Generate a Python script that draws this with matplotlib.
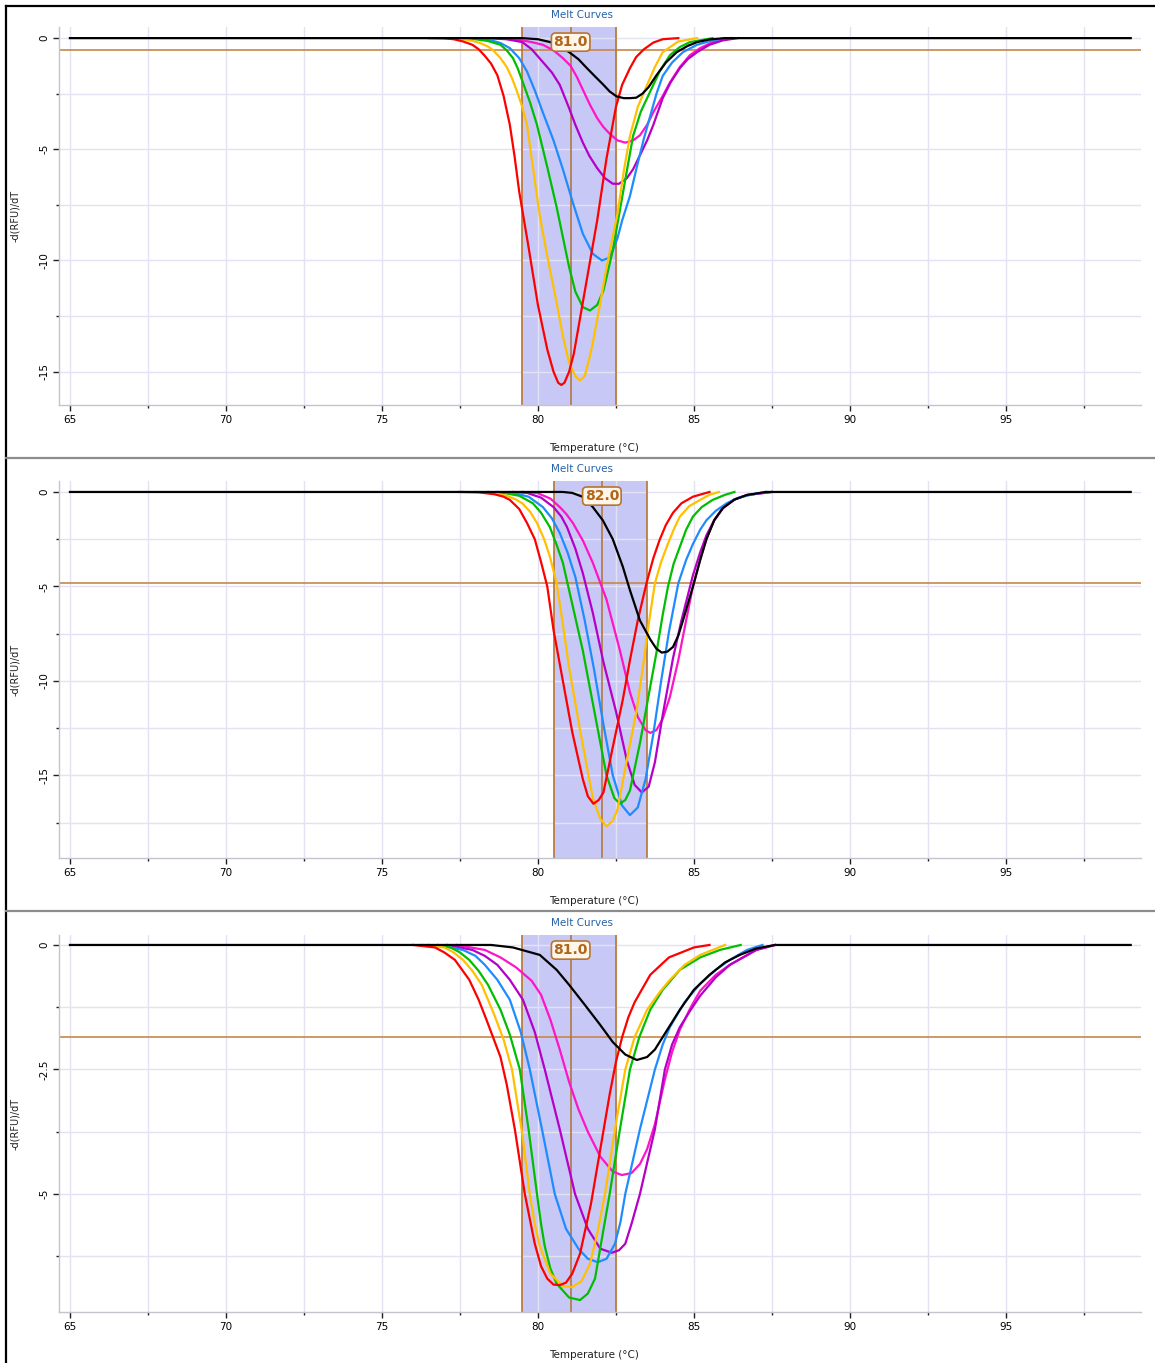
import numpy as np
import matplotlib
matplotlib.use("Agg")
import matplotlib.pyplot as plt
from matplotlib.lines import Line2D
from matplotlib.ticker import MultipleLocator

plt.rcParams['font.family'] = ['DejaVu Sans']
plt.rcParams['axes.unicode_minus'] = False

# ---- panel 1 (melt peak 81.0) ----
p1_red_t = [76.5, 77.0, 77.3, 77.6, 77.9, 78.1, 78.3, 78.5, 78.7, 78.9, 79.1, 79.25, 79.4, 79.7, 80.0, 80.3, 80.5, 80.65, 80.75, 80.85, 81.0, 81.15, 81.45, 81.7, 81.9, 82.2, 82.5, 82.7, 82.95, 83.15, 83.4, 83.7, 84.0, 84.5]
p1_red_y = [0, -0.01, -0.05, -0.15, -0.3, -0.5, -0.8, -1.15, -1.67, -2.6, -3.9, -5.3, -6.9, -9.4, -12.0, -14.0, -15.0, -15.5, -15.6, -15.5, -15.0, -14.2, -11.8, -9.8, -8.2, -5.4, -3.1, -2.1, -1.35, -0.85, -0.5, -0.2, -0.05, 0]
p1_orange_t = [77.0, 77.6, 77.9, 78.2, 78.4, 78.56, 78.8, 79.0, 79.17, 79.33, 79.5, 79.65, 79.85, 80.06, 80.3, 80.6, 80.8, 81.0, 81.2, 81.35, 81.5, 81.65, 81.76, 82.0, 82.2, 82.55, 82.75, 82.95, 83.2, 83.5, 83.75, 84.0, 84.5, 85.1]
p1_orange_y = [0, -0.05, -0.12, -0.25, -0.38, -0.54, -0.9, -1.3, -1.8, -2.4, -3.1, -3.9, -5.9, -8.0, -9.8, -11.9, -13.4, -14.6, -15.2, -15.4, -15.2, -14.4, -13.7, -11.9, -10.3, -7.9, -6.0, -4.4, -3.1, -2.1, -1.3, -0.63, -0.15, 0]
p1_green_t = [77.4, 78.0, 78.4, 78.8, 79.0, 79.2, 79.35, 79.52, 79.75, 79.97, 80.3, 80.6, 81.0, 81.2, 81.44, 81.67, 81.9, 82.1, 82.4, 82.72, 83.05, 83.3, 83.6, 83.9, 84.23, 84.55, 84.87, 85.6]
p1_green_y = [0, -0.05, -0.13, -0.3, -0.55, -0.9, -1.35, -2.0, -2.9, -3.9, -5.8, -7.6, -10.3, -11.4, -12.1, -12.25, -12.0, -11.35, -9.55, -7.0, -4.4, -3.3, -2.4, -1.5, -0.77, -0.4, -0.18, 0]
p1_blue_t = [77.8, 78.5, 78.8, 79.1, 79.4, 79.65, 79.9, 80.16, 80.5, 80.8, 81.12, 81.44, 81.76, 82.05, 82.25, 82.4, 82.55, 82.7, 82.95, 83.17, 83.4, 83.6, 83.8, 84.0, 84.3, 84.65, 85.1, 85.6, 86.0]
p1_blue_y = [0, -0.1, -0.22, -0.45, -0.9, -1.5, -2.35, -3.35, -4.6, -5.9, -7.4, -8.8, -9.7, -10.0, -9.9, -9.55, -9.0, -8.2, -7.1, -5.8, -4.5, -3.5, -2.5, -1.7, -1.1, -0.63, -0.3, -0.1, 0]
p1_purple_t = [78.3, 79.0, 79.5, 79.8, 80.16, 80.45, 80.7, 81.0, 81.2, 81.44, 81.65, 81.9, 82.15, 82.4, 82.6, 82.85, 83.05, 83.27, 83.5, 83.7, 84.0, 84.25, 84.55, 84.8, 85.1, 85.5, 85.93, 86.4]
p1_purple_y = [0, -0.05, -0.18, -0.5, -1.08, -1.55, -2.1, -3.15, -3.9, -4.7, -5.3, -5.85, -6.3, -6.55, -6.55, -6.3, -5.9, -5.27, -4.6, -3.9, -2.7, -2.0, -1.35, -0.95, -0.63, -0.3, -0.1, 0]
p1_magenta_t = [78.7, 79.5, 79.8, 80.16, 80.5, 80.8, 81.05, 81.25, 81.45, 81.67, 81.9, 82.1, 82.3, 82.55, 82.8, 83.05, 83.27, 83.5, 83.7, 84.0, 84.23, 84.55, 84.87, 85.2, 85.6, 86.2]
p1_magenta_y = [0, -0.1, -0.18, -0.3, -0.55, -0.9, -1.25, -1.75, -2.35, -3.0, -3.6, -4.0, -4.3, -4.6, -4.7, -4.6, -4.37, -3.9, -3.33, -2.6, -2.0, -1.3, -0.77, -0.45, -0.18, 0]
p1_black_t = [65.0, 79.5, 80.0, 80.4, 80.7, 81.0, 81.3, 81.57, 81.85, 82.1, 82.3, 82.52, 82.75, 82.95, 83.15, 83.35, 83.55, 83.8, 84.1, 84.45, 84.8, 85.1, 85.5, 86.0, 99.0]
p1_black_y = [0, 0, -0.05, -0.18, -0.38, -0.63, -0.95, -1.35, -1.75, -2.1, -2.4, -2.62, -2.7, -2.7, -2.68, -2.5, -2.2, -1.67, -1.1, -0.63, -0.35, -0.18, -0.06, 0, 0]

# ---- panel 2 (melt peak 82.0) ----
p2_red_t = [77.5, 78.1, 78.6, 78.9, 79.1, 79.4, 79.65, 79.9, 80.1, 80.3, 80.5, 80.8, 81.1, 81.44, 81.6, 81.78, 81.95, 82.1, 82.4, 82.72, 82.95, 83.2, 83.48, 83.7, 83.9, 84.1, 84.33, 84.6, 84.97, 85.5]
p2_red_y = [0, -0.02, -0.12, -0.25, -0.42, -0.9, -1.64, -2.5, -3.7, -5.0, -7.3, -10.0, -12.7, -15.2, -16.1, -16.5, -16.3, -15.9, -13.5, -11.0, -8.9, -6.8, -4.83, -3.5, -2.54, -1.75, -1.1, -0.6, -0.25, 0]
p2_orange_t = [78.0, 78.5, 79.0, 79.3, 79.5, 79.75, 79.97, 80.2, 80.38, 80.6, 80.8, 81.0, 81.35, 81.76, 82.0, 82.2, 82.4, 82.55, 82.85, 83.17, 83.37, 83.55, 83.75, 83.95, 84.13, 84.35, 84.55, 84.85, 85.2, 85.5, 85.8]
p2_orange_y = [0, -0.05, -0.2, -0.4, -0.6, -1.05, -1.64, -2.5, -3.4, -4.83, -7.0, -9.3, -12.6, -16.2, -17.3, -17.7, -17.4, -16.8, -14.2, -11.5, -9.2, -7.0, -4.83, -3.7, -2.9, -2.0, -1.3, -0.75, -0.42, -0.15, 0]
p2_green_t = [78.4, 78.9, 79.4, 79.84, 80.1, 80.38, 80.6, 80.8, 81.0, 81.44, 81.9, 82.2, 82.45, 82.63, 82.8, 82.95, 83.27, 83.6, 83.8, 84.0, 84.17, 84.35, 84.55, 84.75, 84.97, 85.25, 85.6, 86.0, 86.3]
p2_green_y = [0, -0.05, -0.2, -0.6, -1.1, -1.85, -2.8, -3.75, -5.2, -8.4, -12.4, -15.0, -16.2, -16.5, -16.3, -15.8, -13.3, -10.3, -8.5, -6.5, -5.0, -3.8, -2.9, -2.0, -1.3, -0.8, -0.42, -0.15, 0]
p2_blue_t = [78.7, 79.2, 79.7, 80.16, 80.45, 80.7, 80.95, 81.2, 81.5, 81.8, 82.1, 82.4, 82.7, 82.95, 83.2, 83.45, 83.7, 83.95, 84.2, 84.5, 84.75, 84.97, 85.2, 85.4, 85.7, 86.05, 86.4, 86.8, 87.3]
p2_blue_y = [0, -0.05, -0.25, -0.8, -1.4, -2.17, -3.2, -4.5, -6.8, -9.4, -12.3, -15.0, -16.6, -17.1, -16.7, -15.2, -12.8, -10.0, -7.4, -4.83, -3.6, -2.75, -2.0, -1.5, -1.0, -0.6, -0.32, -0.16, 0]
p2_purple_t = [79.2, 79.65, 80.1, 80.5, 80.75, 80.93, 81.2, 81.44, 81.76, 82.1, 82.5, 82.85, 83.1, 83.33, 83.55, 83.75, 84.0, 84.33, 84.6, 84.97, 85.2, 85.4, 85.65, 85.93, 86.3, 86.7, 87.5]
p2_purple_y = [0, -0.05, -0.3, -0.8, -1.3, -1.85, -3.0, -4.3, -6.4, -9.0, -11.6, -14.2, -15.5, -15.9, -15.6, -14.3, -11.8, -8.8, -6.8, -4.4, -3.2, -2.3, -1.5, -0.85, -0.4, -0.16, 0]
p2_magenta_t = [79.5, 79.97, 80.4, 80.7, 80.9, 81.12, 81.45, 81.76, 82.2, 82.63, 82.95, 83.2, 83.45, 83.6, 83.8, 84.0, 84.23, 84.5, 84.75, 84.97, 85.2, 85.4, 85.65, 85.93, 86.3, 86.7, 87.5]
p2_magenta_y = [0, -0.05, -0.35, -0.8, -1.15, -1.64, -2.6, -3.75, -5.7, -8.4, -10.6, -11.9, -12.6, -12.75, -12.6, -12.0, -10.85, -8.9, -6.8, -5.0, -3.6, -2.5, -1.5, -0.85, -0.4, -0.16, 0]
p2_black_t = [65.0, 80.8, 81.1, 81.44, 81.76, 82.08, 82.4, 82.72, 82.95, 83.27, 83.6, 83.8, 83.97, 84.15, 84.33, 84.5, 84.65, 84.97, 85.2, 85.4, 85.65, 85.93, 86.3, 86.7, 87.3, 99.0]
p2_black_y = [0, 0, -0.05, -0.26, -0.8, -1.5, -2.5, -3.95, -5.2, -6.8, -7.8, -8.3, -8.5, -8.45, -8.2, -7.6, -6.8, -5.0, -3.6, -2.5, -1.5, -0.85, -0.4, -0.16, 0, 0]

# ---- panel 3 (melt peak 81.0) ----
p3_red_t = [76.0, 76.7, 77.0, 77.34, 77.8, 78.1, 78.35, 78.56, 78.8, 79.0, 79.26, 79.58, 79.9, 80.1, 80.3, 80.5, 80.7, 80.9, 81.1, 81.35, 81.7, 82.0, 82.3, 82.5, 82.7, 82.9, 83.1, 83.6, 84.2, 85.0, 85.5]
p3_red_y = [0, -0.05, -0.15, -0.3, -0.7, -1.1, -1.5, -1.85, -2.25, -2.8, -3.7, -5.0, -6.0, -6.45, -6.7, -6.82, -6.83, -6.78, -6.6, -6.2, -5.2, -4.1, -3.0, -2.35, -1.85, -1.45, -1.15, -0.6, -0.25, -0.05, 0]
p3_orange_t = [76.3, 77.0, 77.3, 77.6, 77.9, 78.2, 78.6, 78.9, 79.17, 79.5, 79.74, 79.9, 80.06, 80.4, 80.8, 81.1, 81.4, 81.67, 81.9, 82.15, 82.47, 82.8, 83.1, 83.5, 83.9, 84.23, 84.7, 85.2, 86.0]
p3_orange_y = [0, -0.05, -0.15, -0.3, -0.52, -0.8, -1.4, -1.9, -2.5, -3.8, -5.0, -5.6, -6.05, -6.6, -6.85, -6.87, -6.75, -6.4, -5.8, -5.0, -3.7, -2.5, -1.85, -1.3, -0.95, -0.7, -0.4, -0.2, 0]
p3_green_t = [76.5, 77.2, 77.5, 77.8, 78.1, 78.4, 78.8, 79.1, 79.42, 79.7, 79.97, 80.1, 80.22, 80.4, 80.6, 81.0, 81.35, 81.6, 81.83, 82.05, 82.3, 82.63, 82.95, 83.25, 83.6, 84.0, 84.55, 85.2, 85.83, 86.5]
p3_green_y = [0, -0.05, -0.15, -0.3, -0.52, -0.8, -1.3, -1.8, -2.5, -3.7, -5.0, -5.6, -6.05, -6.5, -6.8, -7.08, -7.13, -7.0, -6.7, -5.9, -5.0, -3.7, -2.5, -1.85, -1.3, -0.9, -0.5, -0.25, -0.1, 0]
p3_blue_t = [76.8, 77.6, 78.0, 78.3, 78.7, 79.1, 79.45, 79.74, 80.13, 80.54, 80.9, 81.3, 81.6, 81.92, 82.2, 82.47, 82.65, 82.8, 83.27, 83.75, 84.0, 84.23, 84.7, 85.2, 85.7, 86.15, 86.7, 87.2]
p3_blue_y = [0, -0.1, -0.22, -0.4, -0.7, -1.1, -1.75, -2.5, -3.7, -5.0, -5.7, -6.1, -6.3, -6.37, -6.3, -6.0, -5.55, -5.0, -3.7, -2.5, -2.0, -1.65, -1.15, -0.78, -0.5, -0.3, -0.1, 0]
p3_purple_t = [77.1, 77.9, 78.3, 78.7, 79.1, 79.52, 79.9, 80.22, 80.7, 81.19, 81.6, 82.0, 82.37, 82.6, 82.8, 83.0, 83.27, 83.75, 84.07, 84.3, 84.55, 84.9, 85.2, 85.7, 86.15, 87.0, 87.6]
p3_purple_y = [0, -0.1, -0.22, -0.4, -0.7, -1.1, -1.75, -2.5, -3.7, -5.0, -5.7, -6.1, -6.18, -6.13, -6.0, -5.6, -5.0, -3.7, -2.5, -2.0, -1.65, -1.3, -1.02, -0.65, -0.4, -0.1, 0]
p3_magenta_t = [77.4, 78.3, 78.8, 79.3, 79.8, 80.1, 80.4, 80.7, 81.0, 81.3, 81.6, 82.0, 82.4, 82.69, 83.0, 83.27, 83.5, 83.75, 84.07, 84.3, 84.55, 84.9, 85.2, 85.7, 86.15, 87.0, 87.6]
p3_magenta_y = [0, -0.1, -0.25, -0.45, -0.72, -1.0, -1.5, -2.1, -2.75, -3.3, -3.75, -4.25, -4.55, -4.62, -4.58, -4.4, -4.1, -3.6, -2.7, -2.15, -1.7, -1.25, -0.92, -0.6, -0.4, -0.1, 0]
p3_black_t = [65.0, 78.5, 79.2, 80.06, 80.6, 81.0, 81.5, 81.99, 82.4, 82.8, 83.17, 83.5, 83.75, 84.1, 84.55, 85.0, 85.5, 86.0, 86.47, 87.0, 87.6, 99.0]
p3_black_y = [0, 0, -0.05, -0.2, -0.5, -0.8, -1.2, -1.6, -1.95, -2.2, -2.31, -2.25, -2.1, -1.75, -1.3, -0.9, -0.6, -0.35, -0.2, -0.07, 0, 0]

thresholds = [-0.54, -4.83, -1.85]
regions = [(79.5, 82.5), (80.5, 83.5), (79.5, 82.5)]
peaks = [81.05, 82.05, 81.05]
peak_labels = ["81.0", "82.0", "81.0"]
ylims = [(-16.5, 0.5), (-19.37, 0.58), (-7.37, 0.2)]
ymajor = [[0, -5, -10, -15], [0, -5, -10, -15], [0, -2.5, -5]]
ymajor_labels = [["0", "-5", "-10", "-15"], ["0", "-5", "-10", "-15"], ["0", "-2.5", "-5"]]
yminor = [2.5, 2.5, 1.25]
xticks = [65, 70, 75, 80, 85, 90, 95]

colors = {"magenta": "#FF14C8", "purple": "#B400C8", "blue": "#1E8CFF",
          "green": "#00BE00", "orange": "#FFC000", "red": "#FF0000", "black": "#000000"}

panels = [
    [(p1_magenta_t, p1_magenta_y, "magenta"), (p1_purple_t, p1_purple_y, "purple"), (p1_blue_t, p1_blue_y, "blue"),
     (p1_green_t, p1_green_y, "green"), (p1_orange_t, p1_orange_y, "orange"), (p1_red_t, p1_red_y, "red"),
     (p1_black_t, p1_black_y, "black")],
    [(p2_magenta_t, p2_magenta_y, "magenta"), (p2_purple_t, p2_purple_y, "purple"), (p2_blue_t, p2_blue_y, "blue"),
     (p2_green_t, p2_green_y, "green"), (p2_orange_t, p2_orange_y, "orange"), (p2_red_t, p2_red_y, "red"),
     (p2_black_t, p2_black_y, "black")],
    [(p3_magenta_t, p3_magenta_y, "magenta"), (p3_purple_t, p3_purple_y, "purple"), (p3_blue_t, p3_blue_y, "blue"),
     (p3_green_t, p3_green_y, "green"), (p3_orange_t, p3_orange_y, "orange"), (p3_red_t, p3_red_y, "red"),
     (p3_black_t, p3_black_y, "black")],
]

W, H = 1155, 1363
fig = plt.figure(figsize=(W / 100, H / 100), dpi=100)
fig.patch.set_facecolor("white")

tops = [27, 481, 935]
bottoms = [405, 858, 1312]
brown = "#B8742E"

for i in range(3):
    ax = fig.add_axes([59 / W, 1 - bottoms[i] / H, 1082 / W, (bottoms[i] - tops[i]) / H])
    ax.set_xlim(64.65, 99.33)
    ax.set_ylim(*ylims[i])
    ax.set_axisbelow(True)

    ax.axvspan(regions[i][0], regions[i][1], color="#C8C8F6", zorder=0, lw=0)
    ax.set_xticks(xticks)
    ax.set_xticklabels([str(v) for v in xticks])
    ax.xaxis.set_minor_locator(MultipleLocator(2.5))
    ax.set_yticks(ymajor[i])
    ax.set_yticklabels(ymajor_labels[i], rotation=90, va="center")
    ax.yaxis.set_minor_locator(MultipleLocator(yminor[i]))
    ax.grid(True, which="both", color="#E2E2F2", lw=1.0)

    for sp in ["top", "right"]:
        ax.spines[sp].set_visible(False)
    for sp in ["left", "bottom"]:
        ax.spines[sp].set_color("#C4C4D0")
        ax.spines[sp].set_linewidth(1.0)
    ax.tick_params(which="major", direction="out", length=4, width=1, color="#202020",
                   labelsize=7.5, pad=3)
    ax.tick_params(which="minor", direction="out", length=2, width=1, color="#202020")

    ax.axhline(thresholds[i], color="#C8884A", lw=1.2, zorder=2)
    for xv in regions[i]:
        ax.axvline(xv, color=brown, lw=1.2, zorder=2)
    ax.axvline(peaks[i], color="#B07840", lw=1.2, zorder=2)

    for t, y, c in panels[i]:
        ax.plot(t, y, color=colors[c], lw=1.6, zorder=4 if c == "black" else 3,
                solid_joinstyle="round")

    ax.text(peaks[i], 0.96, peak_labels[i], transform=ax.get_xaxis_transform(),
            ha="center", va="center", fontsize=10, fontweight="bold", color="#B0661A", zorder=6,
            bbox=dict(boxstyle="round,pad=0.15,rounding_size=0.3", fc="#FFF6EA", ec="#B8742E", lw=1.2))

    fig.text(582 / W, 1 - (tops[i] - 12) / H, "Melt Curves", ha="center", va="center",
             fontsize=7.5, color="#2463A8")
    fig.text(594 / W, 1 - (bottoms[i] + 43) / H, "Temperature (°C)", ha="center", va="center",
             fontsize=7.5, color="#202020")
    fig.text(15 / W, 1 - (tops[i] + bottoms[i]) / 2 / H, "-d(RFU)/dT", ha="center", va="center",
             rotation=90, fontsize=7, color="#202020")

# frame and separators
fig.add_artist(Line2D([6 / W, 6 / W], [0, 1 - 6 / H], color="black", lw=1.6))
fig.add_artist(Line2D([6 / W, 1], [1 - 6 / H, 1 - 6 / H], color="black", lw=1.6))
for yy in [458, 911]:
    fig.add_artist(Line2D([6 / W, 1], [1 - yy / H, 1 - yy / H], color="#8C8C8C", lw=1.6))

fig.savefig("out.png", dpi=100)
